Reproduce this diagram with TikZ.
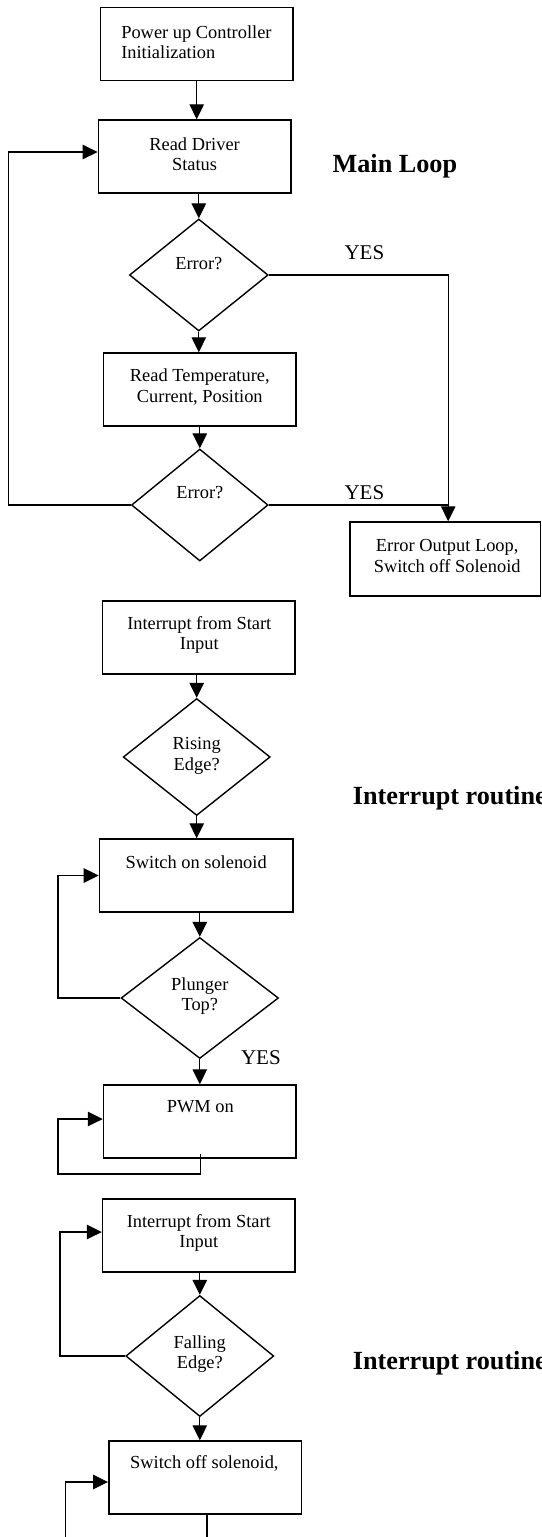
\documentclass[tikz,border=0pt]{standalone}
\usepackage{fontspec}
\setmainfont{Liberation Serif}
\usetikzlibrary{shapes.geometric,arrows.meta}
\tikzset{
  box/.style={draw, line width=1.5pt, minimum width=192.5pt, minimum height=73pt, inner sep=0pt},
  dia/.style={draw, diamond, line width=1.4pt, inner sep=0pt},
  txt/.style={font=\fontsize{18.4}{20.5}\selectfont, align=center, inner sep=0pt},
  conn/.style={line width=1.25pt},
  arr/.style={conn, -{Triangle[length=15pt,width=14.5pt]}},
  yes/.style={font=\fontsize{21}{24}\selectfont, inner sep=0pt},
  ttl/.style={font=\bfseries\fontsize{26.2}{30}\selectfont, inner sep=0pt}
}
\begin{document}
\begin{tikzpicture}[x=1pt,y=-1pt]
\useasboundingbox (0,0) rectangle (541,1537);
% main loop
\node[box] (b1) at (196.7,44) {};
\node[txt, anchor=west, align=left] (t1) at (121.1,42) {Power up Controller\\Initialization};
\node[box] (b2) at (194.6,156.5) {};
\node[txt] (t2) at (194.6,154) {Read Driver\\Status};
\node[ttl] (main) at (394.9,166) {Main Loop};
\node[dia, minimum width=138.7pt, minimum height=112pt] (d1) at (198.8,275) {};
\node[txt] (t3) at (198.8,264) {Error?};
\node[yes] (y1) at (364.4,253) {YES};
\node[box] (b3) at (199.8,389.5) {};
\node[txt] (t4) at (199.8,387) {Read Temperature,\\Current, Position};
\node[dia, minimum width=136.6pt, minimum height=112pt] (d2) at (199.8,505) {};
\node[txt] (t5) at (199.8,493) {Error?};
\node[yes] (y2) at (364.4,493) {YES};
\node[box, minimum width=190.3pt, minimum height=74pt] (err) at (445.2,559) {};
\node[txt] (t6) at (447.2,556) {Error Output Loop,\\Switch off Solenoid};
% interrupt 1
\node[box] (b4) at (198.8,637.5) {};
\node[txt] (t7) at (199.3,635) {Interrupt from Start\\Input};
\node[dia, minimum width=147pt, minimum height=117pt] (d3) at (196.7,757) {};
\node[txt] (t8) at (196.7,756) {Rising\\Edge?};
\node[ttl, anchor=west] (int1) at (352.7,798) {Interrupt routine};
\node[box, minimum width=193.6pt] (b5) at (196.2,875.5) {};
\node[txt] (t9) at (196.2,862) {Switch on solenoid};
\node[dia, minimum width=157.4pt, minimum height=121pt] (d4) at (199.8,998) {};
\node[txt] (t10) at (199.8,996) {Plunger\\Top?};
\node[yes] (y3) at (260.9,1058) {YES};
\node[box] (b6) at (199.8,1121.5) {};
\node[txt] (t11) at (200.3,1107) {PWM on};
% interrupt 2
\node[box] (b7) at (198.8,1235.5) {};
\node[txt] (t12) at (198.8,1233) {Interrupt from Start\\Input};
\node[dia, minimum width=148pt, minimum height=121pt] (d5) at (199.8,1356) {};
\node[txt] (t13) at (199.8,1354) {Falling\\Edge?};
\node[ttl, anchor=west] (int2) at (352.7,1363) {Interrupt routine};
\node[box] (b8) at (205,1477.5) {};
\node[txt] (t14) at (204.4,1463) {Switch off solenoid,};
% coordinates
\coordinate (ein) at ([xshift=3pt]err.north);
\coordinate (bl) at (65.2,1537);
\coordinate (br) at (207,1537);
% connectors
\draw[arr] (b1.south) -- (b1.south |- b2.north);
\draw[arr] (d1.north |- b2.south) -- (d1.north);
\draw[arr] (d1.east) -| (ein);
\draw[arr] (d1.south) -- (d1.south |- b3.north);
\draw[arr] (d2.north |- b3.south) -- (d2.north);
\draw[conn] (d2.east) -- (d2.east -| ein);
\draw[arr] (d2.west) -- (8.3,505) |- ([yshift=4.5pt]b2.west);
\draw[arr] (d3.north |- b4.south) -- (d3.north);
\draw[arr] (d3.south) -- (d3.south |- b5.north);
\draw[arr] (d4.north |- b5.south) -- (d4.north);
\draw[arr] (d4.west) -- (58,998) |- (b5.west);
\draw[arr] (d4.south) -- (d4.south |- b6.north);
\draw[arr] ([xshift=1pt,yshift=5pt]b6.south) |- (58,1174) |- ([yshift=2.5pt]b6.west);
\draw[arr] (d5.north |- b7.south) -- (d5.north);
\draw[arr] (d5.west) -- (60,1356) |- ([yshift=3.5pt]b7.west);
\draw[arr] (d5.south) -- (d5.south |- b8.north);
\draw[arr] (bl) |- ([yshift=-4.5pt]b8.west);
\draw[conn] ([xshift=2pt]b8.south) -- (br);
\end{tikzpicture}
\end{document}
